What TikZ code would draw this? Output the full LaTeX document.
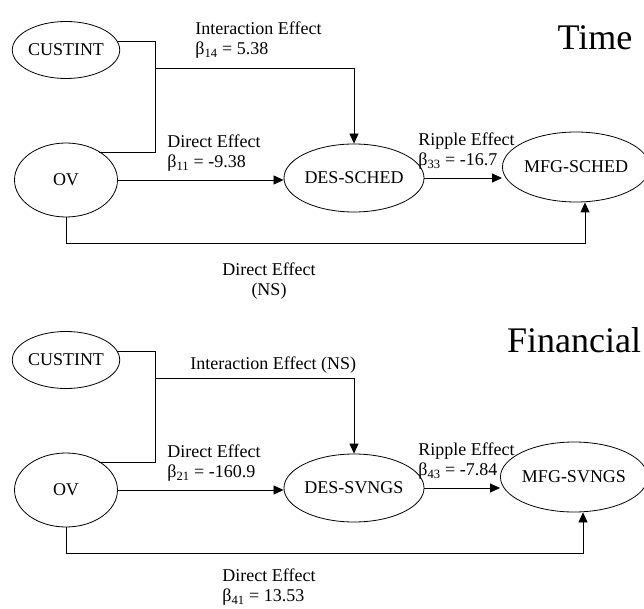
\documentclass[tikz,border=0pt]{standalone}
\usepackage{fontspec}
\setmainfont{Liberation Serif}
\usetikzlibrary{shapes.geometric, arrows.meta}
\tikzstyle{var} = [ellipse, draw = black, line width=0.8pt, inner sep=0pt, text centered, font=\fontsize{18}{20}\selectfont]
\tikzstyle{lbl} = [align=left, inner sep=0pt, anchor=west, font=\fontsize{18}{20}\selectfont]
\tikzstyle{title} = [inner sep=0pt, font=\fontsize{36}{40}\selectfont]
\tikzstyle{arrow} = [-{Triangle[length=10pt,width=9pt]}]

\begin{document}
\begin{tikzpicture}[x=1pt, y=-1pt, line width=0.8pt]
	\useasboundingbox (0,0) rectangle (644,609);
	% Time
	\node (custint1) [var, minimum width=105pt, minimum height=57pt] at (66,50) {CUSTINT};
	\node (ov1) [var, minimum width=103pt, minimum height=74pt] at (66,180) {OV};
	\node (des1) [var, minimum width=124pt, minimum height=68pt] at (354,178) {DES-SCHED};
	\node (mfg1) [var, minimum width=132pt, minimum height=70pt] at (576,167) {MFG-SCHED};
	\node (time) [title] at (595,38) {Time};
	\coordinate (join1) at (155,152);
	\coordinate (tap1) at (155,68);
	\coordinate (low1) at (585,243);
	
	\draw (custint1.10) -| (join1) -- (join1 -| ov1.41);
	\draw [arrow](tap1) -| (des1.north);
	\draw [arrow](ov1.east) -- (ov1.east -| des1.west);
	\draw [arrow](des1.east) -- (des1.east -| mfg1.west);
	\draw [arrow](ov1.south) |- (low1) -- (low1 |- mfg1.south);
	
	\node (int1) [lbl] at (195,40) {Interaction Effect\\β\textsubscript{14} = 5.38};
	\node (dir1) [lbl] at (167,153) {Direct Effect\\β\textsubscript{11} = -9.38};
	\node (rip1) [lbl] at (418,151) {Ripple Effect\\β\textsubscript{33} = -16.7};
	\node (dirns1) [lbl, align=center, anchor=center] at (269,281) {Direct Effect\\(NS)};
	
	% Financial
	\node (custint2) [var, minimum width=105pt, minimum height=57pt] at (66,360) {CUSTINT};
	\node (ov2) [var, minimum width=103pt, minimum height=74pt] at (66,490) {OV};
	\node (des2) [var, minimum width=124pt, minimum height=68pt] at (354,488) {DES-SVNGS};
	\node (mfg2) [var, minimum width=132pt, minimum height=70pt] at (574,477) {MFG-SVNGS};
	\node (fin) [title] at (574,340) {Financial};
	\coordinate (join2) at (155,462);
	\coordinate (tap2) at (155,378);
	\coordinate (low2) at (583,553);
	
	\draw (custint2.10) -| (join2) -- (join2 -| ov2.41);
	\draw [arrow](tap2) -| (des2.north);
	\draw [arrow](ov2.east) -- (ov2.east -| des2.west);
	\draw [arrow](des2.east) -- (des2.east -| mfg2.west);
	\draw [arrow](ov2.south) |- (low2) -- (low2 |- mfg2.south);
	
	\node (int2) [lbl] at (190,365) {Interaction Effect (NS)};
	\node (dir2) [lbl] at (167,463) {Direct Effect\\β\textsubscript{21} = -160.9};
	\node (rip2) [lbl] at (418,461) {Ripple Effect\\β\textsubscript{43} = -7.84};
	\node (dirb2) [lbl] at (222,587) {Direct Effect\\β\textsubscript{41} = 13.53};
\end{tikzpicture}
\end{document}
